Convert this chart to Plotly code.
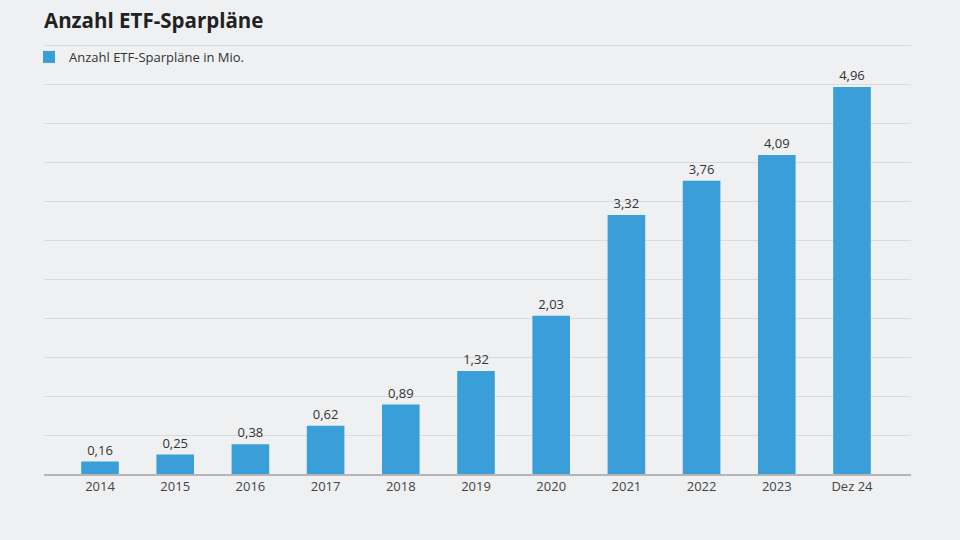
import plotly.graph_objects as go

categories = ["2014", "2015", "2016", "2017", "2018", "2019", "2020", "2021", "2022", "2023", "Dez 24"]
values = [0.16, 0.25, 0.38, 0.62, 0.89, 1.32, 2.03, 3.32, 3.76, 4.09, 4.96]
series_name = "Anzahl ETF-Sparpläne in Mio."
title_text = "Anzahl ETF-Sparpläne"

bg = "#eff0f2"
bar_color = "#3a9ed8"

fig = go.Figure()
fig.add_trace(go.Bar(
    x=list(range(len(categories))),
    y=values,
    name=series_name,
    marker=dict(color=bar_color, line=dict(width=0)),
    width=0.5,
    text=values,
    texttemplate="%{y:.2f}",
    textposition="outside",
    textfont=dict(family="Open Sans", size=13, color="#333333"),
    cliponaxis=False,
    showlegend=True,
))

fig.update_layout(
    width=960, height=540,
    paper_bgcolor=bg, plot_bgcolor=bg,
    margin=dict(l=44, r=49, t=43, b=66),
    separators=",.",
    font=dict(family="Open Sans", color="#333333"),
    title=dict(text="<b>" + title_text + "</b>", xref="container", yref="container",
               x=44/960, xanchor="left", y=1-21/540, yanchor="middle",
               font=dict(family="Open Sans", size=20.5, color="#222222")),
    legend=dict(x=-15/867, xanchor="left", y=1+1/431, yanchor="top", orientation="h",
                bgcolor="rgba(0,0,0,0)", font=dict(size=13, color="#333333"),
                itemwidth=30),
    bargap=0.5,
)
fig.update_xaxes(
    tickmode="array", tickvals=list(range(len(categories))), ticktext=categories,
    range=[-0.745, 10.785], showgrid=False, zeroline=False,
    showline=True, linecolor="#b5b5b5", linewidth=1.5,
    tickfont=dict(size=13, color="#444444"), ticks="",
)
fig.update_yaxes(
    range=[0, 5.5 + 2/78], tickmode="array",
    tickvals=[i * 0.5 for i in range(12)], showticklabels=False,
    showgrid=True, gridcolor="#d9dadc", gridwidth=1, zeroline=False,
)

fig.write_html("out.html")
